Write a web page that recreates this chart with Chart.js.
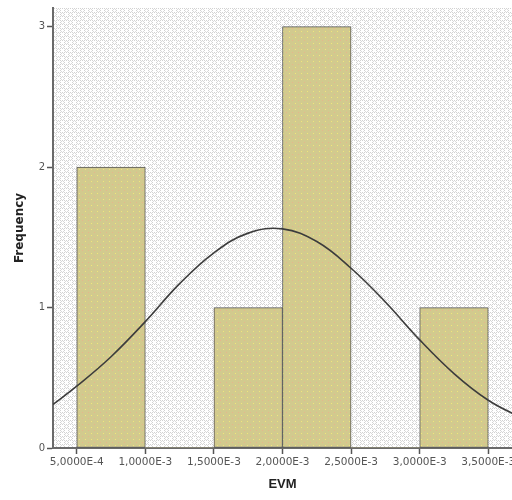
<!DOCTYPE html>
<html lang="en">
<head>
    <meta charset="UTF-8">
    <title>EVM Histogram</title>
    <script src="https://cdn.jsdelivr.net/npm/chart.js"></script>
    <style>
        html, body { margin: 0; padding: 0; background: #fff; overflow: hidden; }
    </style>
</head>
<body>
    <canvas id="histChart" width="512" height="500"></canvas>

    <script>
        // histogram bins (centre of each bin) and counts
        const binCenters = [7.5e-4, 1.25e-3, 1.75e-3, 2.25e-3, 2.75e-3, 3.25e-3];
        const frequencies = [2, 0, 1, 3, 0, 1];

        // normal curve
        const curveX = [3.27e-4, 5.0e-4, 7.5e-4, 1.0e-3, 1.25e-3, 1.5e-3, 1.75e-3, 2.0e-3, 2.25e-3, 2.5e-3, 2.75e-3, 3.0e-3, 3.25e-3, 3.5e-3, 3.75e-3];
        const curveY = [0.31, 0.44, 0.65, 0.90, 1.17, 1.39, 1.53, 1.56, 1.47, 1.28, 1.04, 0.77, 0.53, 0.34, 0.21];

        const xTicks = [5e-4, 1e-3, 1.5e-3, 2e-3, 2.5e-3, 3e-3, 3.5e-3];
        const yTicks = [0, 1, 2, 3];

        function makePattern(size, draw) {
            const c = document.createElement('canvas');
            c.width = size; c.height = size;
            const g = c.getContext('2d');
            draw(g);
            return document.getElementById('histChart').getContext('2d').createPattern(c, 'repeat');
        }

        // light grey cross-hatch behind the plot
        const bgPattern = makePattern(8, g => {
            g.fillStyle = '#ffffff';
            g.fillRect(0, 0, 8, 8);
            g.fillStyle = '#d2d2d2';
            for (let i = 0; i < 8; i += 2) {
                g.fillRect(i, 0, 1, 1);
                g.fillRect(0, i, 1, 1);
                g.fillRect(i, 4, 1, 1);
                g.fillRect(4, i, 1, 1);
            }
            g.fillStyle = '#dadada';
            g.fillRect(1, 1, 1, 1); g.fillRect(3, 3, 1, 1);
            g.fillRect(3, 1, 1, 1); g.fillRect(1, 3, 1, 1);
            g.fillRect(5, 5, 1, 1); g.fillRect(7, 7, 1, 1);
            g.fillRect(7, 5, 1, 1); g.fillRect(5, 7, 1, 1);
        });

        // khaki fill with little yellow / orange dots
        const barPattern = makePattern(6, g => {
            g.fillStyle = '#d2ca8e';
            g.fillRect(0, 0, 6, 6);
            g.fillStyle = '#f0e87a';
            g.fillRect(1, 1, 1, 1);
            g.fillStyle = '#e8b48c';
            g.fillRect(4, 4, 1, 1);
        });

        const plotBackground = {
            id: 'plotBackground',
            beforeDraw(chart) {
                const { ctx, chartArea: a } = chart;
                ctx.save();
                ctx.fillStyle = bgPattern;
                ctx.fillRect(a.left, a.top, a.right - a.left, a.bottom - a.top);
                ctx.restore();
            }
        };

        const fmt = v => v.toExponential(4).replace('.', ',').replace('e', 'E');

        const ctx = document.getElementById('histChart').getContext('2d');
        new Chart(ctx, {
            type: 'bar',
            data: {
                datasets: [{
                    type: 'line',
                    data: curveX.map((x, i) => ({ x: x, y: curveY[i] })),
                    borderColor: '#3c3c3c',
                    borderWidth: 1.6,
                    pointRadius: 0,
                    tension: 0.4,
                    fill: false,
                    order: 0
                }, {
                    type: 'bar',
                    data: binCenters.map((x, i) => ({ x: x, y: frequencies[i] })),
                    backgroundColor: barPattern,
                    borderColor: '#555',
                    borderWidth: c => (c.raw && c.raw.y > 0 ? 1 : 0),
                    borderSkipped: false,
                    barPercentage: 1,
                    categoryPercentage: 1,
                    order: 1
                }]
            },
            options: {
                responsive: false,
                animation: false,
                layout: { padding: { top: 8, right: 0, left: 0, bottom: 0 } },
                plugins: {
                    legend: { display: false },
                    tooltip: { enabled: false }
                },
                scales: {
                    x: {
                        type: 'linear',
                        offset: false,
                        min: 3.27e-4,
                        max: 3.673e-3,
                        afterBuildTicks: s => { s.ticks = xTicks.map(v => ({ value: v })); },
                        afterFit: s => { s.height = 52; s.paddingLeft = 0; s.paddingRight = 0; },
                        grid: { offset: false, drawOnChartArea: false, tickLength: 6, tickColor: '#555', tickWidth: 1.5 },
                        border: { color: '#6a6a6a', width: 2 },
                        ticks: {
                            autoSkip: false,
                            maxRotation: 0,
                            padding: 2,
                            color: '#555',
                            font: { family: 'DejaVu Sans', size: 10.5 },
                            callback: v => fmt(v)
                        },
                        title: {
                            display: true,
                            text: 'EVM',
                            color: '#222',
                            font: { family: 'Liberation Sans, Arial', size: 13, weight: 'bold' },
                            padding: { top: 4, bottom: 8 }
                        }
                    },
                    y: {
                        min: 0,
                        max: 3.133,
                        afterBuildTicks: s => { s.ticks = yTicks.map(v => ({ value: v })); },
                        afterFit: s => { s.width = 53; },
                        grid: { drawOnChartArea: false, tickLength: 6, tickColor: '#555', tickWidth: 1.5 },
                        border: { color: '#6a6a6a', width: 2 },
                        ticks: {
                            padding: 2,
                            color: '#555',
                            font: { family: 'DejaVu Sans', size: 10 }
                        },
                        title: {
                            display: true,
                            text: 'Frequency',
                            color: '#222',
                            font: { family: 'DejaVu Sans', size: 12, weight: 'bold' },
                            padding: { top: 13, bottom: 4 }
                        }
                    }
                }
            },
            plugins: [plotBackground]
        });
    </script>
</body>
</html>
